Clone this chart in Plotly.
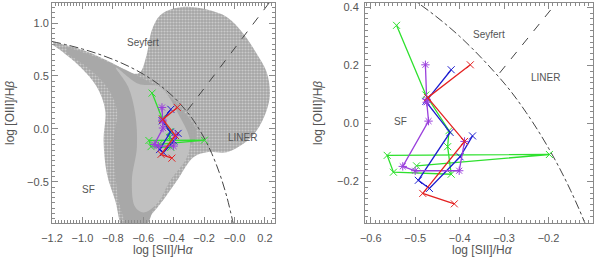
import plotly.graph_objects as go

# ---------------- data ----------------
green_x = [-0.542, -0.476, -0.424, -0.427, -0.419, -0.549, -0.563, -0.198, -0.497]
green_y = [0.338, 0.098, -0.025, -0.080, -0.175, -0.168, -0.110, -0.107, -0.146]

blue_x = [-0.419, -0.476, -0.4215, -0.493, -0.468, -0.399, -0.371]
blue_y = [0.185, 0.076, -0.031, -0.196, -0.224, -0.115, -0.043]

purple_x = [-0.477, -0.474, -0.474, -0.470, -0.528, -0.500, -0.401, -0.389]
purple_y = [0.202, 0.083, 0.073, 0.008, -0.148, -0.163, -0.163, -0.062]

red_x = [-0.376, -0.472, -0.389, -0.483, -0.412]
red_y = [0.202, 0.089, -0.062, -0.241, -0.277]

# demarcation curve (star-forming / AGN) and Seyfert/LINER line
curve_x = [-1.2, -1.1, -1.0, -0.9, -0.8, -0.7, -0.6, -0.5, -0.4, -0.3, -0.25, -0.2, -0.15, -0.1, -0.05, 0.0]
curve_y = [0.826, 0.793, 0.755, 0.710, 0.657, 0.594, 0.517, 0.422, 0.300, 0.139, 0.037, -0.085, -0.232, -0.414, -0.646, -0.95]
sl_x = [-0.31, 0.25]
sl_y = [0.174, 1.233]

# galaxy cloud outlines (left panel)
cloud_x = [-1.193, -0.992, -0.795, -0.664, -0.62, -0.576, -0.544, -0.489, -0.401, -0.292, -0.182, -0.051,
           0.058, 0.146, 0.211, 0.233, 0.211, 0.146, 0.058, -0.051, -0.182, -0.27, -0.379, -0.489, -0.576,
           -0.664, -0.73, -0.784, -0.839, -0.861, -0.85, -0.905, -1.014, -1.145, -1.193]
cloud_y = [0.821, 0.742, 0.616, 0.521, 0.537, 0.711, 0.932, 1.074, 1.137, 1.153, 1.128, 1.058,
           0.90, 0.711, 0.537, 0.332, 0.174, -0.016, -0.142, -0.221, -0.221, -0.268, -0.49, -0.711, -0.853,
           -0.95, -0.95, -0.68, -0.426, -0.11, 0.174, 0.395, 0.584, 0.742, 0.79]
dense_x = [-1.102, -0.883, -0.664, -0.489, -0.358, -0.248, -0.314, -0.423, -0.511, -0.598, -0.686,
           -0.751, -0.784, -0.795, -0.773, -0.839, -0.97, -1.102]
dense_y = [0.774, 0.663, 0.521, 0.379, 0.205, -0.047, -0.205, -0.458, -0.679, -0.95, -0.95,
           -0.742, -0.426, -0.11, 0.174, 0.395, 0.584, 0.71]
core_x = [-0.78, -0.632, -0.489, -0.358, -0.293, -0.314, -0.424, -0.511, -0.599, -0.653, -0.675, -0.642, -0.653, -0.70, -0.78]
core_y = [0.58, 0.426, 0.394, 0.11, -0.11, -0.27, -0.49, -0.71, -0.79, -0.74, -0.49, -0.174, 0.142, 0.40, 0.58]

left_xticks = [-1.2, -1.0, -0.8, -0.6, -0.4, -0.2, 0.0, 0.2]
left_xlabels = ["\u22121.2", "\u22121.0", "\u22120.8", "\u22120.6", "\u22120.4", "\u22120.2", "\u22120.0", "0.2"]
left_yticks = [-0.5, 0.0, 0.5, 1.0]
left_ylabels = ["\u22120.5", "0.0", "0.5", "1.0"]
right_xticks = [-0.6, -0.5, -0.4, -0.3, -0.2, -0.1]
right_xlabels = ["\u22120.6", "\u22120.5", "\u22120.4", "\u22120.3", "\u22120.2", "\u22120.1"]
right_yticks = [-0.2, 0.0, 0.2, 0.4]
right_ylabels = ["\u22120.2", "0.0", "0.2", "0.4"]

tracks = [
    (green_x, green_y, "#2ee02e", "x-thin-open"),
    (blue_x, blue_y, "#1c1cd0", "x-thin-open"),
    (purple_x, purple_y, "#9a3fdc", "asterisk-open"),
    (red_x, red_y, "#e42222", "x-thin-open"),
]

FONT = "Liberation Sans, Arial, sans-serif"
TXT = "#555555"
AX = "#8a8a8a"

fig = go.Figure()

# cloud (left panel only)
fig.add_trace(go.Scatter(x=cloud_x, y=cloud_y, mode="lines", fill="toself", line=dict(width=0, shape="spline"),
                         fillcolor="#a5a5a5",
                         fillpattern=dict(shape=".", fgcolor="#f2f2f2", bgcolor="#a5a5a5", size=3, solidity=0.4),
                         hoverinfo="skip", xaxis="x", yaxis="y", showlegend=False))
fig.add_trace(go.Scatter(x=dense_x, y=dense_y, mode="lines", fill="toself", line=dict(width=0, shape="spline"),
                         fillcolor="#a8a8a8", hoverinfo="skip", xaxis="x", yaxis="y", showlegend=False))
fig.add_trace(go.Scatter(x=core_x, y=core_y, mode="lines", fill="toself", line=dict(width=0, shape="spline"),
                         fillcolor="#c0c0c0", hoverinfo="skip", xaxis="x", yaxis="y", showlegend=False))

for xa, ya in (("x", "y"), ("x2", "y2")):
    fig.add_trace(go.Scatter(x=curve_x, y=curve_y, mode="lines",
                             line=dict(color="#444444", width=1, dash="dashdot", shape="spline"),
                             xaxis=xa, yaxis=ya, showlegend=False, hoverinfo="skip"))
    fig.add_trace(go.Scatter(x=sl_x, y=sl_y, mode="lines",
                             line=dict(color="#444444", width=1, dash="dash"),
                             xaxis=xa, yaxis=ya, showlegend=False, hoverinfo="skip"))
    for tx, ty, col, sym in tracks:
        fig.add_trace(go.Scatter(x=tx, y=ty, mode="lines+markers",
                                 line=dict(color=col, width=1.3),
                                 marker=dict(symbol=sym, size=7, color=col, line=dict(color=col, width=1)),
                                 xaxis=xa, yaxis=ya, showlegend=False))

axis_common = dict(showgrid=False, zeroline=False, showline=True, linecolor=AX, linewidth=1,
                   mirror="allticks", ticks="inside", ticklen=6, tickcolor=AX, automargin=False,
                   tickfont=dict(family=FONT, size=11, color=TXT), tickmode="array")

fig.update_layout(
    width=600, height=258,
    margin=dict(l=0, r=0, t=0, b=0, autoexpand=False),
    paper_bgcolor="white", plot_bgcolor="white",
    showlegend=False,
    xaxis=dict(domain=[0.0867, 0.4583], range=[-1.2, 0.266], anchor="y", ticklabelstandoff=5,
               tickvals=left_xticks, ticktext=left_xlabels,
               minor=dict(ticks="inside", ticklen=3, dtick=0.02, tick0=0, tickcolor=AX), **axis_common),
    yaxis=dict(domain=[0.1357, 0.9884], range=[-0.89, 1.19], anchor="x",
               tickvals=left_yticks, ticktext=left_ylabels,
               minor=dict(ticks="inside", ticklen=3, dtick=0.05, tick0=0, tickcolor=AX), **axis_common),
    xaxis2=dict(domain=[0.6083, 0.9883], range=[-0.613, -0.1], anchor="y2", ticklabelstandoff=5,
                tickvals=right_xticks, ticktext=right_xlabels,
                minor=dict(ticks="inside", ticklen=3, dtick=0.01, tick0=0, tickcolor=AX), **axis_common),
    yaxis2=dict(domain=[0.1357, 0.9884], range=[-0.343, 0.415], anchor="x2", ticklabelstandoff=3,
                tickvals=right_yticks, ticktext=right_ylabels,
                minor=dict(ticks="inside", ticklen=3, dtick=0.02, tick0=0, tickcolor=AX), **axis_common),
)

labels = [
    ("x", "y", -0.60, 0.82, "Seyfert"),
    ("x", "y", 0.055, -0.08, "LINER"),
    ("x", "y", -0.96, -0.578, "SF"),
    ("x2", "y2", -0.335, 0.307, "Seyfert"),
    ("x2", "y2", -0.207, 0.159, "LINER"),
    ("x2", "y2", -0.534, 0.008, "SF"),
]
for xr, yr, x, y, t in labels:
    fig.add_annotation(x=x, y=y, xref=xr, yref=yr, text=t, showarrow=False,
                       font=dict(family=FONT, size=10, color=TXT))

for cx in (163.5, 482):
    fig.add_annotation(x=cx / 600, y=1 - 250 / 258, xref="paper", yref="paper",
                       xanchor="center", yanchor="middle",
                       text="log [SII]/H<i>\u03b1</i>", showarrow=False,
                       font=dict(family=FONT, size=12, color=TXT))
for cx in (10, 318):
    fig.add_annotation(x=cx / 600, y=1 - 113 / 258, xref="paper", yref="paper",
                       xanchor="center", yanchor="middle",
                       text="log [OIII]/H<i>\u03b2</i>", showarrow=False, textangle=-90,
                       font=dict(family=FONT, size=12, color=TXT))

fig.write_html("out.html", config={"displayModeBar": False},
               post_script="document.body.style.margin='0';")
